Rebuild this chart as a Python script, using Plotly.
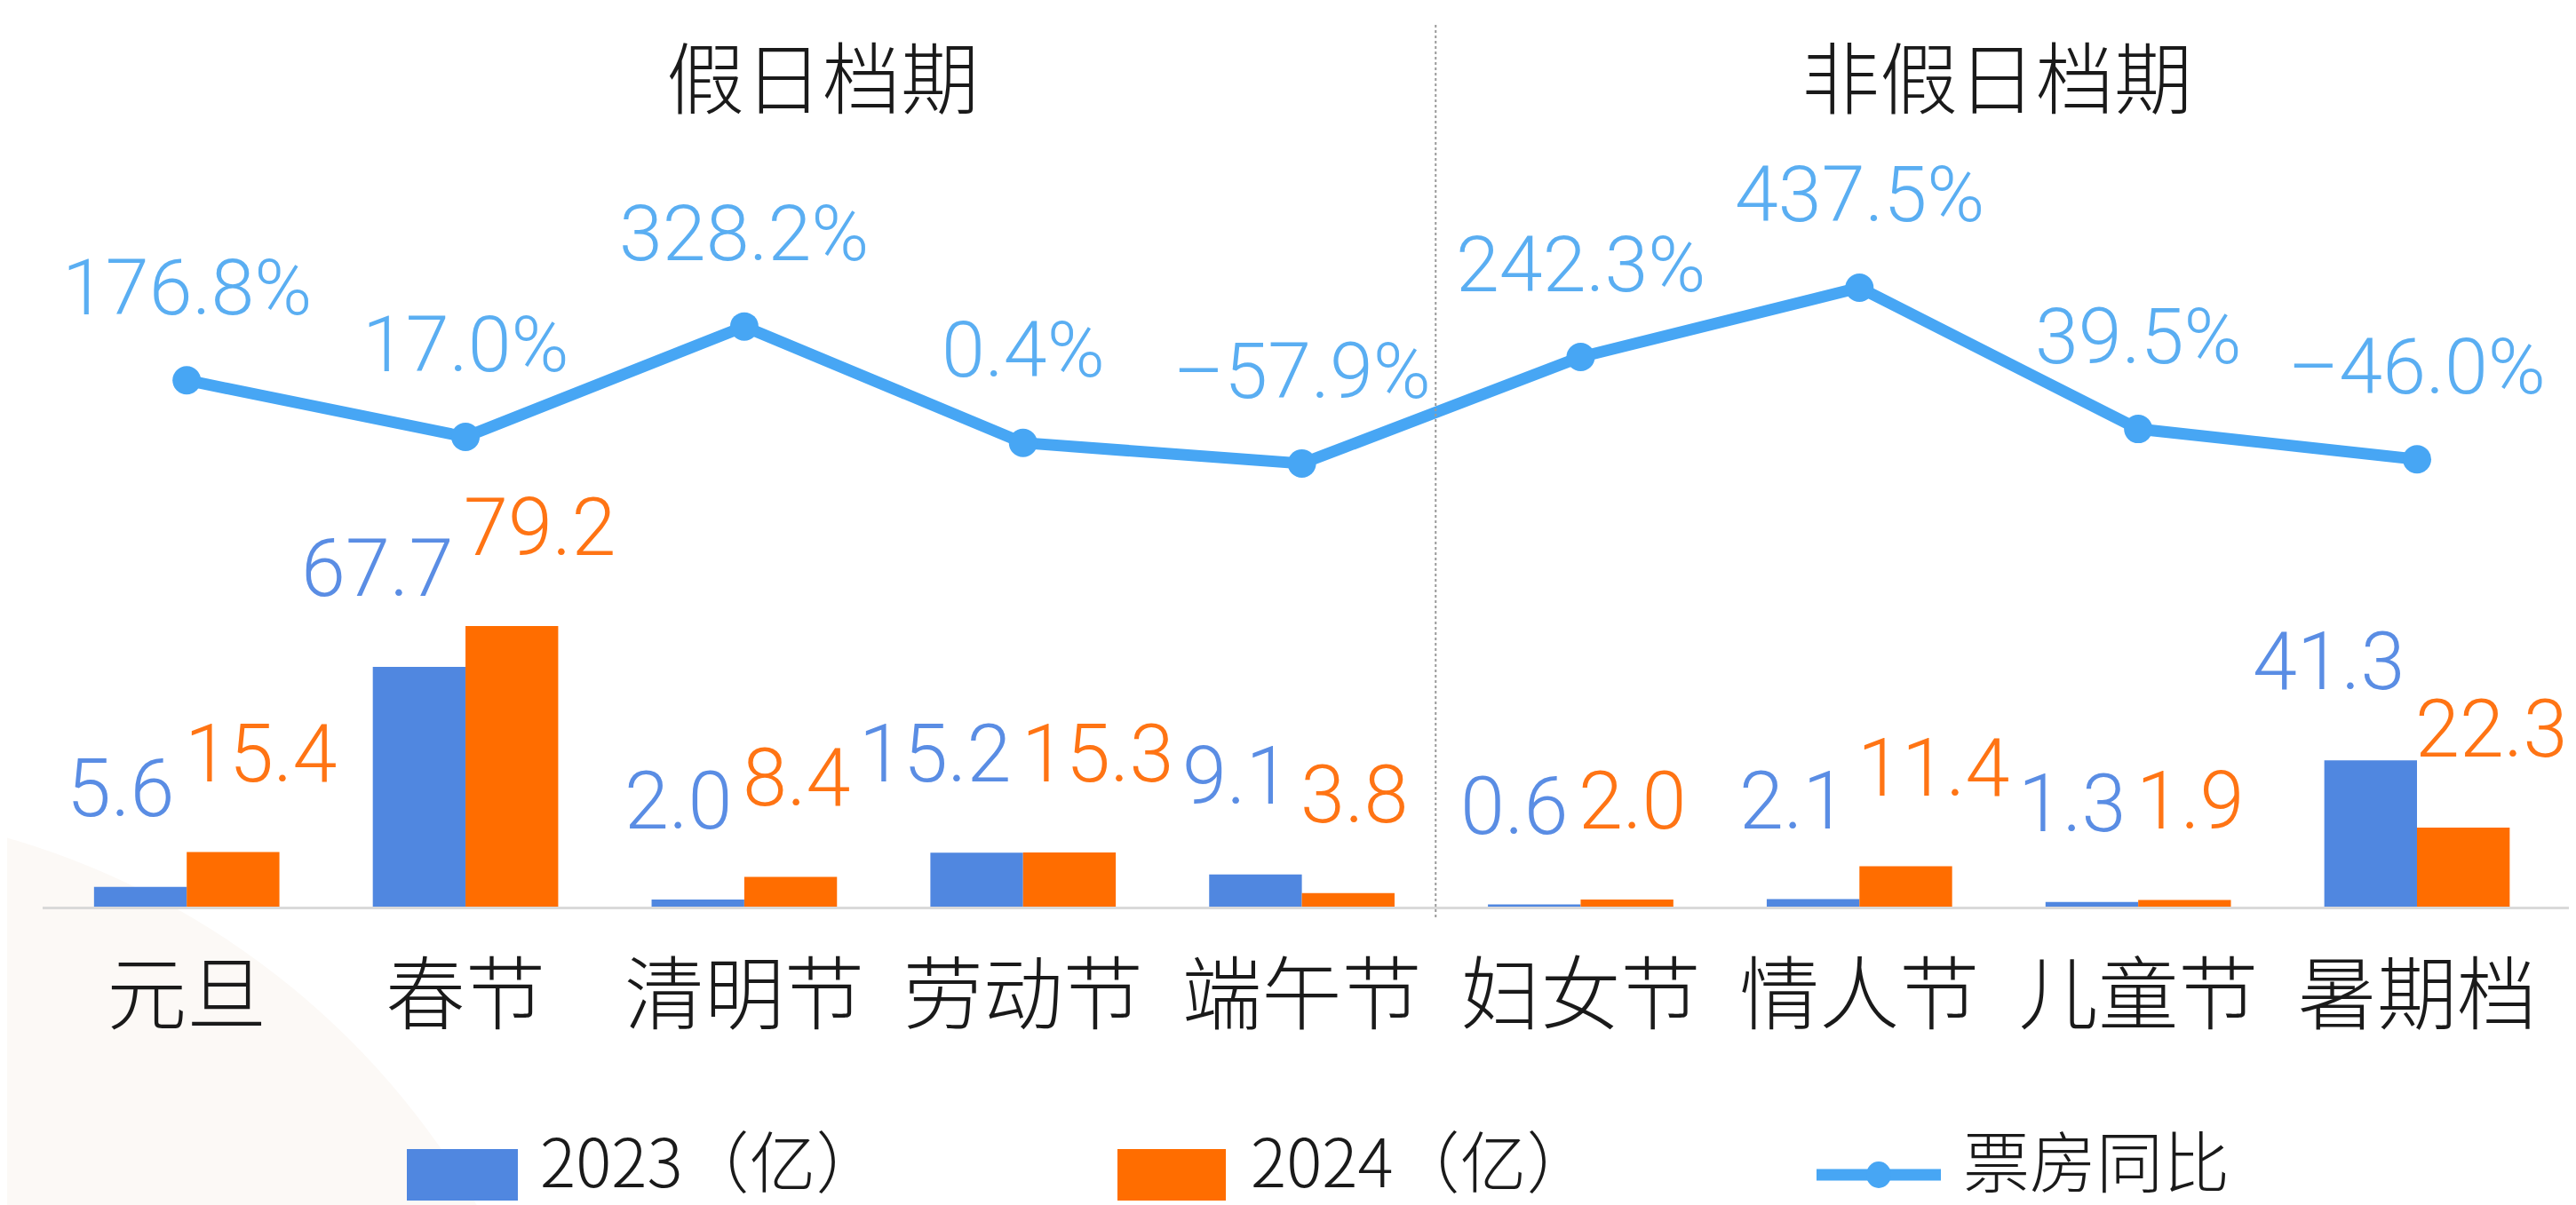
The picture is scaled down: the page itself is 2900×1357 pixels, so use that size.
import plotly.graph_objects as go

categories = ["元旦", "春节", "清明节", "劳动节", "端午节", "妇女节", "情人节", "儿童节", "暑期档"]
box_2023 = [5.6, 67.7, 2.0, 15.2, 9.1, 0.6, 2.1, 1.3, 41.3]
box_2024 = [15.4, 79.2, 8.4, 15.3, 3.8, 2.0, 11.4, 1.9, 22.3]
yoy_pct = [176.8, 17.0, 328.2, 0.4, -57.9, 242.3, 437.5, 39.5, -46.0]
group_titles = ["假日档期", "非假日档期"]
legend_names = ["2023（亿）", "2024（亿）", "票房同比"]

C_2023 = "#5087E0"
C_2024 = "#FF6D00"
C_LINE = "#47A6F4"
C_PCT = "#5AAEF2"
C_L23 = "#5A8DE4"
C_L24 = "#FF7414"
FONT = "Roboto, 'Noto Sans CJK SC', sans-serif"
CJK = "'Noto Sans CJK SC', Roboto, sans-serif"

W, H = 2900, 1357
L, R, T, B = 40, 16, 0, 344
plot_h = H - T - B  # 1013
px_per_unit = 3.99
y1_max = plot_h / px_per_unit
# line axis: -57.9 at pixel 514, slope 0.3997 px per %
slope = 0.3997
y2_min = -57.9 - (plot_h - 514) / slope
y2_max = -57.9 + 514 / slope

def px_x(p):
    return (p - L) / (W - L - R)

def px_y(p):
    return (plot_h - p) / plot_h

fig = go.Figure()
fig.add_trace(go.Bar(x=categories, y=box_2023, name=legend_names[0], marker_color=C_2023,
                     marker_line_width=0, showlegend=False))
fig.add_trace(go.Bar(x=categories, y=box_2024, name=legend_names[1], marker_color=C_2024,
                     marker_line_width=0, showlegend=False))
fig.add_trace(go.Scatter(x=categories, y=yoy_pct, name=legend_names[2], yaxis="y2",
                         mode="lines+markers", line=dict(color=C_LINE, width=13),
                         marker=dict(color=C_LINE, size=32), showlegend=False))

ann = []
for c, v in zip(categories, box_2023):
    ann.append(dict(x=c, y=v, xref="x", yref="y", text=f"{v:.1f}", showarrow=False,
                    xanchor="right", yanchor="bottom", yshift=56, xshift=-12,
                    font=dict(family=FONT, size=90, color=C_L23, weight=300)))
for c, v in zip(categories, box_2024):
    ann.append(dict(x=c, y=v, xref="x", yref="y", text=f"{v:.1f}", showarrow=False,
                    xanchor="left", yanchor="bottom", yshift=56, xshift=-4,
                    font=dict(family=FONT, size=90, color=C_L24, weight=300)))
for c, v in zip(categories, yoy_pct):
    ann.append(dict(x=c, y=v, xref="x", yref="y2", text=f"{v:.1f}%".replace("-", "–"),
                    showarrow=False, xanchor="center", yanchor="middle", yshift=105,
                    font=dict(family=FONT, size=88, color=C_PCT, weight=300)))
# group titles
ann.append(dict(x=px_x(918), y=px_y(74), xref="paper", yref="paper", text=group_titles[0],
                showarrow=False, xanchor="center", yanchor="middle",
                font=dict(family=CJK, size=88, color="#1a1a1a", weight=300)))
ann.append(dict(x=px_x(2240), y=px_y(74), xref="paper", yref="paper", text=group_titles[1],
                showarrow=False, xanchor="center", yanchor="middle",
                font=dict(family=CJK, size=88, color="#1a1a1a", weight=300)))

# custom legend
leg_y = 1296
leg_font = dict(family=CJK, size=75, color="#1a1a1a", weight=300)
shapes = []
# faint background circle (watermark)
shapes.append(dict(type="circle", xref="paper", yref="paper",
                   x0=px_x(-1150), x1=px_x(650), y0=px_y(2700), y1=px_y(900),
                   fillcolor="#FCF9F6", line_width=0, layer="below"))
# separator
shapes.append(dict(type="line", xref="x", yref="paper", x0=4.48, x1=4.48,
                   y0=px_y(1025), y1=px_y(18), line=dict(color="#9a9a9a", width=2, dash="dot")))
shapes.append(dict(type="rect", xref="paper", yref="paper", x0=px_x(450), x1=px_x(575),
                   y0=px_y(1344), y1=px_y(1286), fillcolor=C_2023, line_width=0))
ann.append(dict(x=px_x(598), y=px_y(leg_y), xref="paper", yref="paper", text=legend_names[0],
                showarrow=False, xanchor="left", yanchor="middle", font=leg_font))
shapes.append(dict(type="rect", xref="paper", yref="paper", x0=px_x(1250), x1=px_x(1372),
                   y0=px_y(1344), y1=px_y(1286), fillcolor=C_2024, line_width=0))
ann.append(dict(x=px_x(1398), y=px_y(leg_y), xref="paper", yref="paper", text=legend_names[1],
                showarrow=False, xanchor="left", yanchor="middle", font=leg_font))
shapes.append(dict(type="line", xref="paper", yref="paper", x0=px_x(2037), x1=px_x(2177),
                   y0=px_y(1315), y1=px_y(1315), line=dict(color=C_LINE, width=13)))
shapes.append(dict(type="circle", xref="paper", yref="paper", x0=px_x(2093), x1=px_x(2121),
                   y0=px_y(1315 + 15), y1=px_y(1315 - 15), fillcolor=C_LINE, line_width=0))
ann.append(dict(x=px_x(2200), y=px_y(leg_y), xref="paper", yref="paper", text=legend_names[2],
                showarrow=False, xanchor="left", yanchor="middle", font=leg_font))

fig.update_layout(
    width=W, height=H,
    margin=dict(l=L, r=R, t=T, b=B, pad=0),
    paper_bgcolor="white", plot_bgcolor="rgba(0,0,0,0)",
    barmode="group", bargap=0.335, bargroupgap=0,
    showlegend=False,
    xaxis=dict(type="category", showline=True, linecolor="#D9D9D9", linewidth=3,
               showgrid=False, ticks="", ticklabelstandoff=20,
               tickfont=dict(family=CJK, size=90, color="#1a1a1a", weight=300)),
    yaxis=dict(range=[0, y1_max], visible=False, showgrid=False, zeroline=False),
    yaxis2=dict(range=[y2_min, y2_max], overlaying="y", visible=False, showgrid=False,
                zeroline=False),
    annotations=ann, shapes=shapes,
)

fig.write_html("out.html")
